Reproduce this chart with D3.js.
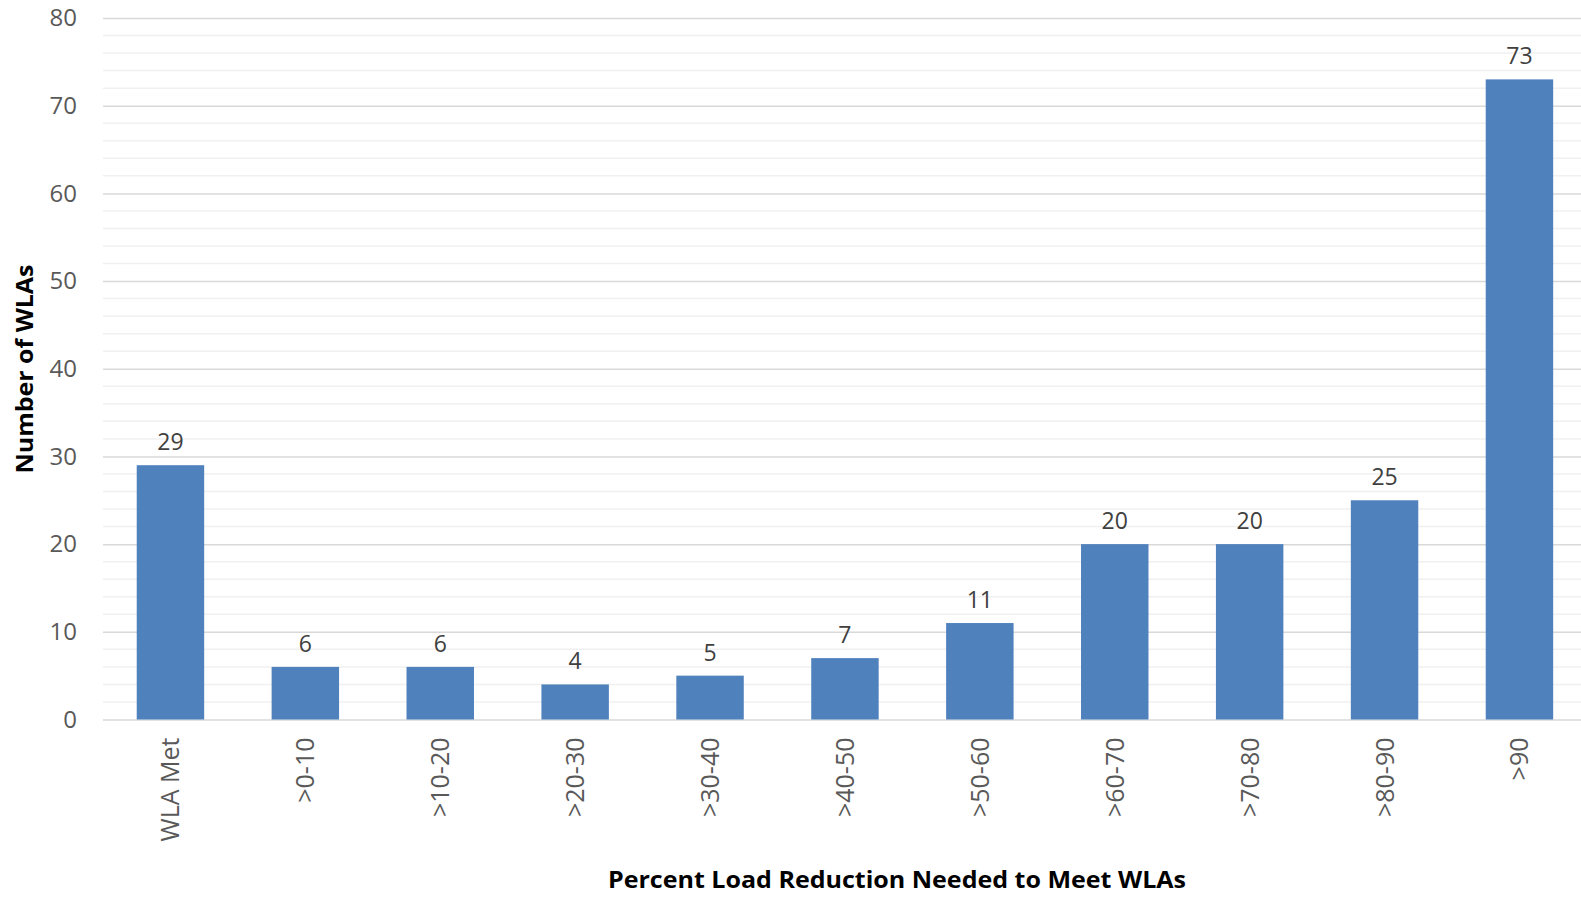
<!DOCTYPE html>
<html>
<head>
<meta charset="utf-8">
<script src="https://cdn.jsdelivr.net/npm/d3@7"></script>
<style>
  html, body { margin: 0; padding: 0; background: #fff; }
  svg { display: block; }
</style>
</head>
<body>
<script>
const categories = ["WLA Met", ">0-10", ">10-20", ">20-30", ">30-40", ">40-50", ">50-60", ">60-70", ">70-80", ">80-90", ">90"];
const counts = [29, 6, 6, 4, 5, 7, 11, 20, 20, 25, 73];
const majorTicks = [0, 10, 20, 30, 40, 50, 60, 70, 80];
const minorTicks = d3.range(0, 81, 2).filter(v => v % 10 !== 0);

const width = 1581, height = 897;
const margin = {top: 18, left: 103, bottom: 177};

const svg = d3.select("body").append("svg")
    .attr("width", width)
    .attr("height", height)
    .style("font-family", "'Open Sans', sans-serif");

// plot runs a little past the right edge, as in the source image
const x = d3.scaleBand()
    .domain(categories)
    .range([margin.left, margin.left + 11 * 134.9])
    .paddingInner(0.5)
    .paddingOuter(0.25);

const y = d3.scaleLinear()
    .domain([0, 80])
    .range([height - margin.bottom - 0.5, margin.top]);

// minor grid
svg.append("g")
  .selectAll("line")
  .data(minorTicks)
  .join("line")
    .attr("x1", margin.left).attr("x2", width)
    .attr("y1", d => y(d)).attr("y2", d => y(d))
    .attr("stroke", "#f0f0f0")
    .attr("stroke-width", 1.5);

// major grid + labels
const yAxis = d3.axisLeft(y).tickValues(majorTicks).tickSize(0).tickPadding(26);
const gy = svg.append("g")
    .attr("transform", `translate(${margin.left},0)`)
    .call(yAxis);
gy.select(".domain").remove();
gy.selectAll(".tick line").clone()
    .attr("x2", width - margin.left)
    .attr("stroke", "#d9d9d9")
    .attr("stroke-width", 1.5);
gy.selectAll(".tick text")
    .attr("fill", "#595959")
    .style("font-size", "24px")
    .attr("font-family", "'Open Sans', sans-serif");

// bars
svg.append("g")
  .selectAll("rect")
  .data(counts)
  .join("rect")
    .attr("x", (d, i) => x(categories[i]))
    .attr("y", d => y(d))
    .attr("width", x.bandwidth())
    .attr("height", d => y(0) - y(d))
    .attr("fill", "#4f81bd");

// data labels
svg.append("g")
  .selectAll("text")
  .data(counts)
  .join("text")
    .attr("x", (d, i) => x(categories[i]) + x.bandwidth() / 2)
    .attr("y", d => y(d) - 15)
    .attr("text-anchor", "middle")
    .attr("fill", "#404040")
    .style("font-size", "23px")
    .text(d => d);

// x category labels (rotated)
svg.append("g")
  .selectAll("text")
  .data(categories)
  .join("text")
    .attr("transform", d => `translate(${x(d) + x.bandwidth() / 2 + 9},${y(0) + 18}) rotate(-90)`)
    .attr("text-anchor", "end")
    .attr("fill", "#595959")
    .style("font-size", "25px")
    .text(d => d);

// axis titles
svg.append("text")
    .attr("x", 897)
    .attr("y", 888)
    .attr("text-anchor", "middle")
    .attr("fill", "#000")
    .style("font-size", "24px")
    .style("font-weight", "bold")
    .attr("textLength", 578)
    .attr("lengthAdjust", "spacingAndGlyphs")
    .text("Percent Load Reduction Needed to Meet WLAs");

svg.append("text")
    .attr("transform", `translate(33,369) rotate(-90)`)
    .attr("text-anchor", "middle")
    .attr("fill", "#000")
    .style("font-size", "24px")
    .style("font-weight", "bold")
    .attr("textLength", 209)
    .attr("lengthAdjust", "spacingAndGlyphs")
    .text("Number of WLAs");
</script>
</body>
</html>
